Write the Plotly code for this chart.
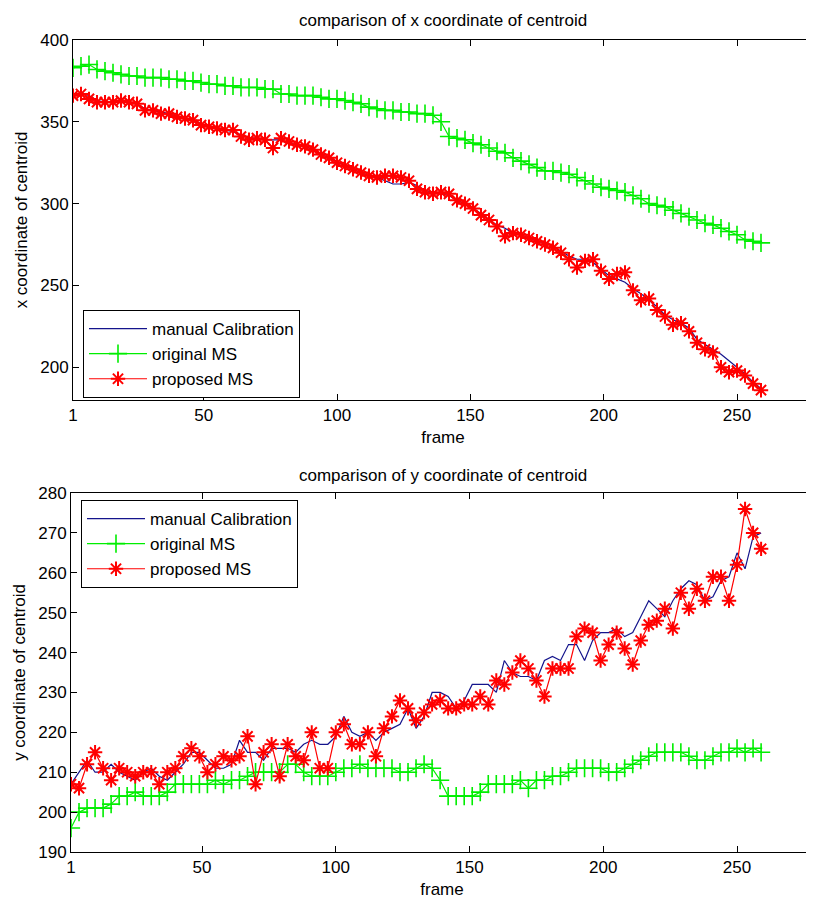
import plotly.graph_objects as go

# ---------------- data ----------------
frames = list(range(1, 260, 3))  # frame index of each sample (1, 4, ..., 259)

x_manual = [366, 368, 366, 363, 362, 362, 362, 362, 361, 358,
            357, 356, 355, 353, 352, 351, 349, 347, 346, 345,
            344, 342, 340, 340, 339, 339, 339, 337, 336, 335,
            333, 330, 328, 326, 323, 321, 319, 317, 316, 314,
            312, 312, 313, 311, 308, 307, 306, 305, 302, 300,
            297, 294, 290, 287, 285, 282, 281, 279, 277, 276,
            274, 271, 268, 266, 266, 264, 260, 256, 254, 252,
            248, 245, 241, 237, 232, 229, 227, 224, 217, 214,
            211, 208, 204, 200, 196, 191, 187]
x_original = [383, 384, 385, 382, 381, 380, 379, 378, 378, 377,
              377, 377, 376, 376, 375, 375, 374, 373, 373, 372,
              372, 371, 371, 371, 370, 370, 367, 367, 366, 366,
              366, 365, 364, 364, 363, 362, 361, 359, 358, 357,
              357, 356, 356, 355, 355, 354, 350, 341, 340, 339,
              337, 336, 334, 332, 331, 328, 326, 324, 322, 320,
              320, 319, 318, 316, 314, 312, 310, 309, 308, 307,
              305, 303, 300, 299, 298, 296, 294, 292, 290, 288,
              287, 285, 283, 281, 278, 277, 276]
x_proposed = [366, 367, 364, 362, 362, 362, 363, 362, 361, 357,
              357, 355, 355, 353, 352, 351, 348, 347, 346, 345,
              345, 341, 339, 340, 339, 334, 340, 338, 336, 335,
              333, 330, 328, 325, 323, 321, 319, 317, 316, 317,
              317, 316, 314, 309, 307, 306, 307, 306, 302, 300,
              297, 293, 290, 286, 280, 282, 281, 279, 277, 275,
              273, 270, 266, 261, 265, 266, 259, 254, 257, 258,
              247, 241, 242, 235, 231, 226, 227, 222, 215, 211,
              209, 200, 197, 198, 195, 190, 186]

y_manual = [207, 210, 213, 210, 210, 212, 210, 209, 208, 210,
            211, 209, 208, 210, 212, 215, 215, 213, 211, 211,
            212, 218, 215, 215, 213, 216, 216, 216, 215, 217,
            218, 217, 217, 219, 224, 220, 219, 220, 218, 220,
            221, 222, 226, 221, 224, 230, 230, 229, 226, 228,
            232, 232, 232, 230, 238, 235, 234, 234, 233, 238,
            239, 238, 242, 242, 238, 243, 245, 245, 246, 244,
            245, 249, 253, 251, 249, 253, 256, 258, 257, 253,
            254, 258, 259, 265, 261, 269, 270]
y_original = [196, 200, 201, 201, 201, 202, 204, 204, 205, 204,
              204, 204, 205, 207, 207, 207, 207, 207, 208, 207,
              208, 208, 209, 210, 210, 210, 210, 212, 212, 210,
              209, 209, 209, 210, 211, 211, 212, 211, 211, 211,
              211, 210, 210, 211, 212, 211, 208, 204, 204, 204,
              204, 205, 207, 207, 207, 207, 208, 206, 208, 208,
              209, 209, 210, 211, 211, 211, 211, 210, 210, 211,
              212, 213, 214, 215, 215, 215, 215, 214, 213, 213,
              214, 215, 215, 216, 215, 216, 215]
y_proposed = [207, 206, 212, 215, 211, 208, 211, 210, 209, 210,
              210, 207, 210, 211, 214, 216, 214, 210, 212, 214,
              213, 214, 219, 207, 215, 217, 209, 217, 214, 213,
              220, 211, 211, 220, 222, 217, 217, 220, 214, 221,
              224, 228, 226, 223, 225, 227, 228, 226, 226, 227,
              227, 229, 227, 233, 232, 235, 238, 236, 233, 229,
              236, 236, 236, 244, 246, 245, 238, 242, 245, 241,
              237, 243, 247, 248, 251, 246, 255, 251, 256, 253,
              259, 259, 253, 262, 276, 270, 266]

series_names = ["manual Calibration", "original MS", "proposed MS"]
x_ticks = [1, 50, 100, 150, 200, 250]
top_yticks = [200, 250, 300, 350, 400]
bot_yticks = [190, 200, 210, 220, 230, 240, 250, 260, 270, 280]
titles = ["comparison of x coordinate of centroid",
          "comparison of y coordinate of centroid"]
x_title = "frame"
y_titles = ["x coordinate of centroid", "y coordinate of centroid"]

# ---------------- styling ----------------
FONT = "Liberation Sans, Arial, Helvetica, sans-serif"
FS = 17
BLUE = "#14148c"
GREEN = "#00ee00"
RED = "#ff0000"

fig = go.Figure()


def add_panel(manual, original, proposed, xa, ya, legend):
    fig.add_trace(go.Scatter(x=frames, y=manual, mode="lines", name=series_names[0],
                             line=dict(color=BLUE, width=1.2),
                             xaxis=xa, yaxis=ya, legend=legend))
    fig.add_trace(go.Scatter(x=frames, y=original, mode="lines+markers", name=series_names[1],
                             line=dict(color=GREEN, width=1.2),
                             marker=dict(symbol="cross-thin", size=13,
                                         line=dict(color=GREEN, width=1.6)),
                             xaxis=xa, yaxis=ya, legend=legend))
    fig.add_trace(go.Scatter(x=frames, y=proposed, mode="lines+markers", name=series_names[2],
                             line=dict(color=RED, width=1.2),
                             marker=dict(symbol="asterisk", size=12, color=RED,
                                         line=dict(color=RED, width=2)),
                             xaxis=xa, yaxis=ya, legend=legend))


add_panel(x_manual, x_original, x_proposed, "x", "y", "legend")
add_panel(y_manual, y_original, y_proposed, "x2", "y2", "legend2")

# The page body has an 8px margin, so the figure is 8px smaller and every
# reference pixel position is shifted by that offset.
OFF = 8
W, H = 814 - OFF, 900 - OFF


def px(x):
    return (x - OFF) / W


def py(y):
    return 1 - (y - OFF) / H


axis_common = dict(showline=True, linecolor="black", linewidth=1, mirror="ticks",
                   ticks="inside", ticklen=6, tickcolor="black", tickwidth=1,
                   showgrid=False, zeroline=False, automargin=False,
                   tickfont=dict(family=FONT, size=FS, color="black"))

legend_common = dict(bgcolor="white", bordercolor="black", borderwidth=1,
                     font=dict(family=FONT, size=FS, color="black"),
                     xanchor="left", yanchor="top", itemwidth=58,
                     tracegroupgap=0)

fig.update_layout(
    width=W, height=H,
    margin=dict(l=0, r=0, t=0, b=0, autoexpand=False),
    paper_bgcolor="white", plot_bgcolor="white",
    font=dict(family=FONT, size=FS, color="black"),
    showlegend=True,
    xaxis=dict(axis_common, domain=[px(73), px(813)], range=[1, 278.5],
               tickvals=x_ticks, anchor="y",
               title=dict(text=x_title, standoff=6, font=dict(family=FONT, size=FS))),
    yaxis=dict(axis_common, domain=[py(400), py(40)], range=[180, 400],
               tickvals=top_yticks, anchor="x",
               title=dict(text=y_titles[0], standoff=8, font=dict(family=FONT, size=FS))),
    xaxis2=dict(axis_common, domain=[px(71), px(813)], range=[1, 278.4],
                tickvals=x_ticks, anchor="y2",
                title=dict(text=x_title, standoff=6, font=dict(family=FONT, size=FS))),
    yaxis2=dict(axis_common, domain=[py(852), py(493)], range=[190, 280],
                tickvals=bot_yticks, anchor="x2",
                title=dict(text=y_titles[1], standoff=8, font=dict(family=FONT, size=FS))),
    legend=dict(legend_common, x=px(83), y=py(310)),
    legend2=dict(legend_common, x=px(81), y=py(500)),
    annotations=[
        dict(text=titles[0], x=px(443), y=py(20), xref="paper", yref="paper",
             xanchor="center", yanchor="middle", showarrow=False,
             font=dict(family=FONT, size=FS, color="black")),
        dict(text=titles[1], x=px(443), y=py(475), xref="paper", yref="paper",
             xanchor="center", yanchor="middle", showarrow=False,
             font=dict(family=FONT, size=FS, color="black")),
    ],
)

fig.write_html("out.html")
